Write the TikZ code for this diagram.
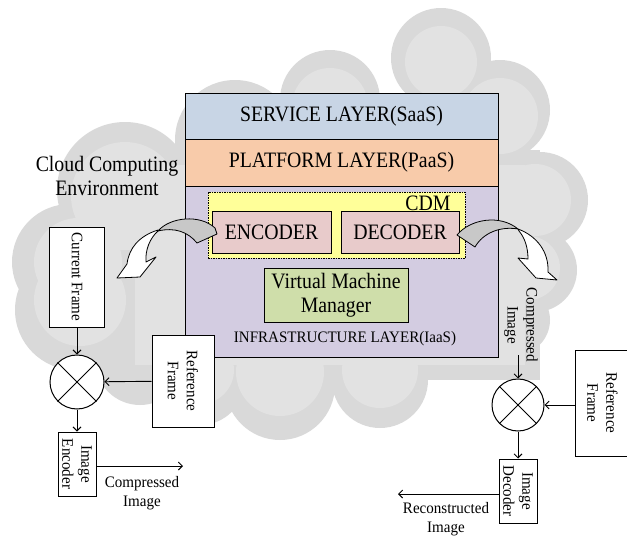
\documentclass[tikz,border=0pt]{standalone}
\usepackage{fontspec}
\setmainfont{Liberation Serif}
\newfontfamily\bigfam[FakeStretch=0.9]{Liberation Serif}
\newfontfamily\smallfam[FakeStretch=0.94]{Liberation Serif}
\usetikzlibrary{arrows.meta}
\definecolor{cloudc}{HTML}{D9D9D9}
\definecolor{cloudin}{HTML}{E2E2E2}
\definecolor{saasc}{HTML}{C8D5E5}
\definecolor{paasc}{HTML}{F8CBAA}
\definecolor{iaasc}{HTML}{D3CCE1}
\definecolor{cdmc}{HTML}{FFFF99}
\definecolor{codc}{HTML}{E8CBCB}
\definecolor{vmmc}{HTML}{CFDEAA}
\definecolor{bandc}{HTML}{C8C8C8}
\begin{document}
\begin{tikzpicture}[x=1pt,y=-1pt,
  box/.style={draw, line width=1pt, inner sep=0pt},
  arr/.style={-{Straight Barb[length=4pt,width=8pt]}, line width=0.9pt},
  big/.style={font=\bigfam\fontsize{22}{24}\selectfont},
  small/.style={font=\smallfam\fontsize{16}{19}\selectfont},
  xmul/.style={draw, circle, minimum size=#1, fill=white, line width=1pt, inner sep=0pt},
  blk/.style={draw, line width=0.8pt, line join=round}
]
\useasboundingbox (0,0) rectangle (627,538);
\clip (0,0) rectangle (627,538);
% cloud
\fill[cloudc] (441,58) circle (50) (330,100) circle (50) (235,140) circle (60)
  (500,110) circle (50) (540,200) circle (48) (535,270) circle (42) (515,320) circle (35)
  (380,380) circle (48) (280,385) circle (55) (200,380) circle (45) (140,360) circle (45)
  (75,310) circle (60) (70,262) circle (58) (125,190) circle (68);
\fill[cloudc] (120,150) rectangle (540,380);
\fill[cloudin] (441,62) circle (36) (330,106) circle (38) (235,146) circle (46)
  (500,116) circle (38) (535,200) circle (36) (528,268) circle (32)
  (380,370) circle (38) (280,372) circle (44) (200,370) circle (34)
  (80,300) circle (46) (78,262) circle (44) (125,196) circle (54);
\fill[cloudin] (135,165) rectangle (525,365);
% layers
\node[box, fill=saasc, minimum width=313, minimum height=46, big] (saas) at (341.5,116) {SERVICE LAYER(SaaS)};
\node[box, fill=paasc, minimum width=313, minimum height=47, big] (paas) at (341.5,162.5) {PLATFORM LAYER(PaaS)};
\node[box, fill=iaasc, minimum width=313, minimum height=171] (iaas) at (341.5,271.5) {};
\node[small] (iaasl) at (345,339) {INFRASTRUCTURE LAYER(IaaS)};
\node[draw, fill=cdmc, line width=0.8pt, dash pattern=on 1.5pt off 1pt, minimum width=257, minimum height=66, inner sep=0pt] (cdm) at (336.5,225) {};
\node[big] (cdml) at (428,203) {CDM};
\node[box, fill=codc, minimum width=119, minimum height=42, big] (enc) at (271.5,232) {ENCODER};
\node[box, fill=codc, minimum width=118, minimum height=42, big] (dec) at (400,232) {DECODER};
\node[box, fill=vmmc, minimum width=144, minimum height=54, big, align=center] (vmm) at (336,295) {Virtual Machine\\Manager};
\node[big, align=center] (cce) at (107,176) {Cloud Computing\\Environment};
% left block arrow
\draw[blk, fill=bandc] (158,231) .. controls (170,217) and (200,214) .. (215,228) -- (217,234) -- (197,243)
  .. controls (188,232) and (175,227) .. (158,231) -- cycle;
\draw[blk, fill=white] (158,230) .. controls (139,236) and (129,248) .. (127,264) -- (117,278) -- (140,277)
  -- (156,257) -- (146,262) .. controls (145,250) and (150,238) .. (158,231) -- cycle;
% right block arrow
\draw[blk, fill=bandc] (457,235) .. controls (470,219) and (500,214) .. (518,229)
  .. controls (500,226) and (483,233) .. (475,247) -- cycle;
\draw[blk, fill=white] (518,229) .. controls (537,236) and (549,252) .. (548,272) -- (557,280) -- (536,278)
  -- (518,258) -- (528,259) .. controls (528,248) and (525,238) .. (519,231) -- cycle;
% left chain
\node[box, fill=white, minimum width=55, minimum height=100,
  label={[small, rotate=-90]center:Current Frame}] (cf) at (77,277) {};
\node[xmul=54] (m1) at (77,382) {};
\draw[line width=0.9pt] (m1.45) -- (m1.225) (m1.135) -- (m1.315);
\node[box, fill=white, minimum width=62, minimum height=92,
  label={[small, rotate=-90, align=center]center:Reference\\Frame}] (rf1) at (183,381) {};
\node[box, fill=white, minimum width=38, minimum height=64,
  label={[small, rotate=-90, align=center]center:Image\\Encoder}] (ie) at (77,464) {};
\node[small, align=center] (cil) at (142,493) {Compressed\\Image};
\coordinate (ceo) at (183,466);
\draw[arr] (cf) -- (m1);
\draw[arr] (rf1) -- (m1);
\draw[arr] (m1) -- (ie);
\draw[arr] (ie.east |- ceo) -- (ceo);
% right chain
\node[small, rotate=-90, align=center] (ci) at (521,325) {Compressed\\Image};
\coordinate (cit) at (518,355);
\node[xmul=52] (m2) at (518,405) {};
\draw[line width=0.9pt] (m2.45) -- (m2.225) (m2.135) -- (m2.315);
\node[box, fill=white, minimum width=55, minimum height=106,
  label={[small, rotate=-90, align=center]center:Reference\\Frame}] (rf2) at (602.5,403) {};
\node[box, fill=white, minimum width=38, minimum height=64,
  label={[small, rotate=-90, align=center]center:Image\\Decoder}] (id) at (518,491) {};
\coordinate (rec) at (398,494);
\node[small, align=center] (recl) at (446,519) {Reconstructed\\Image};
\draw[arr] (cit) -- (m2);
\draw[arr] (rf2.west |- m2) -- (m2);
\draw[arr] (m2) -- (id);
\draw[arr] (id.west |- rec) -- (rec);
\end{tikzpicture}
\end{document}
